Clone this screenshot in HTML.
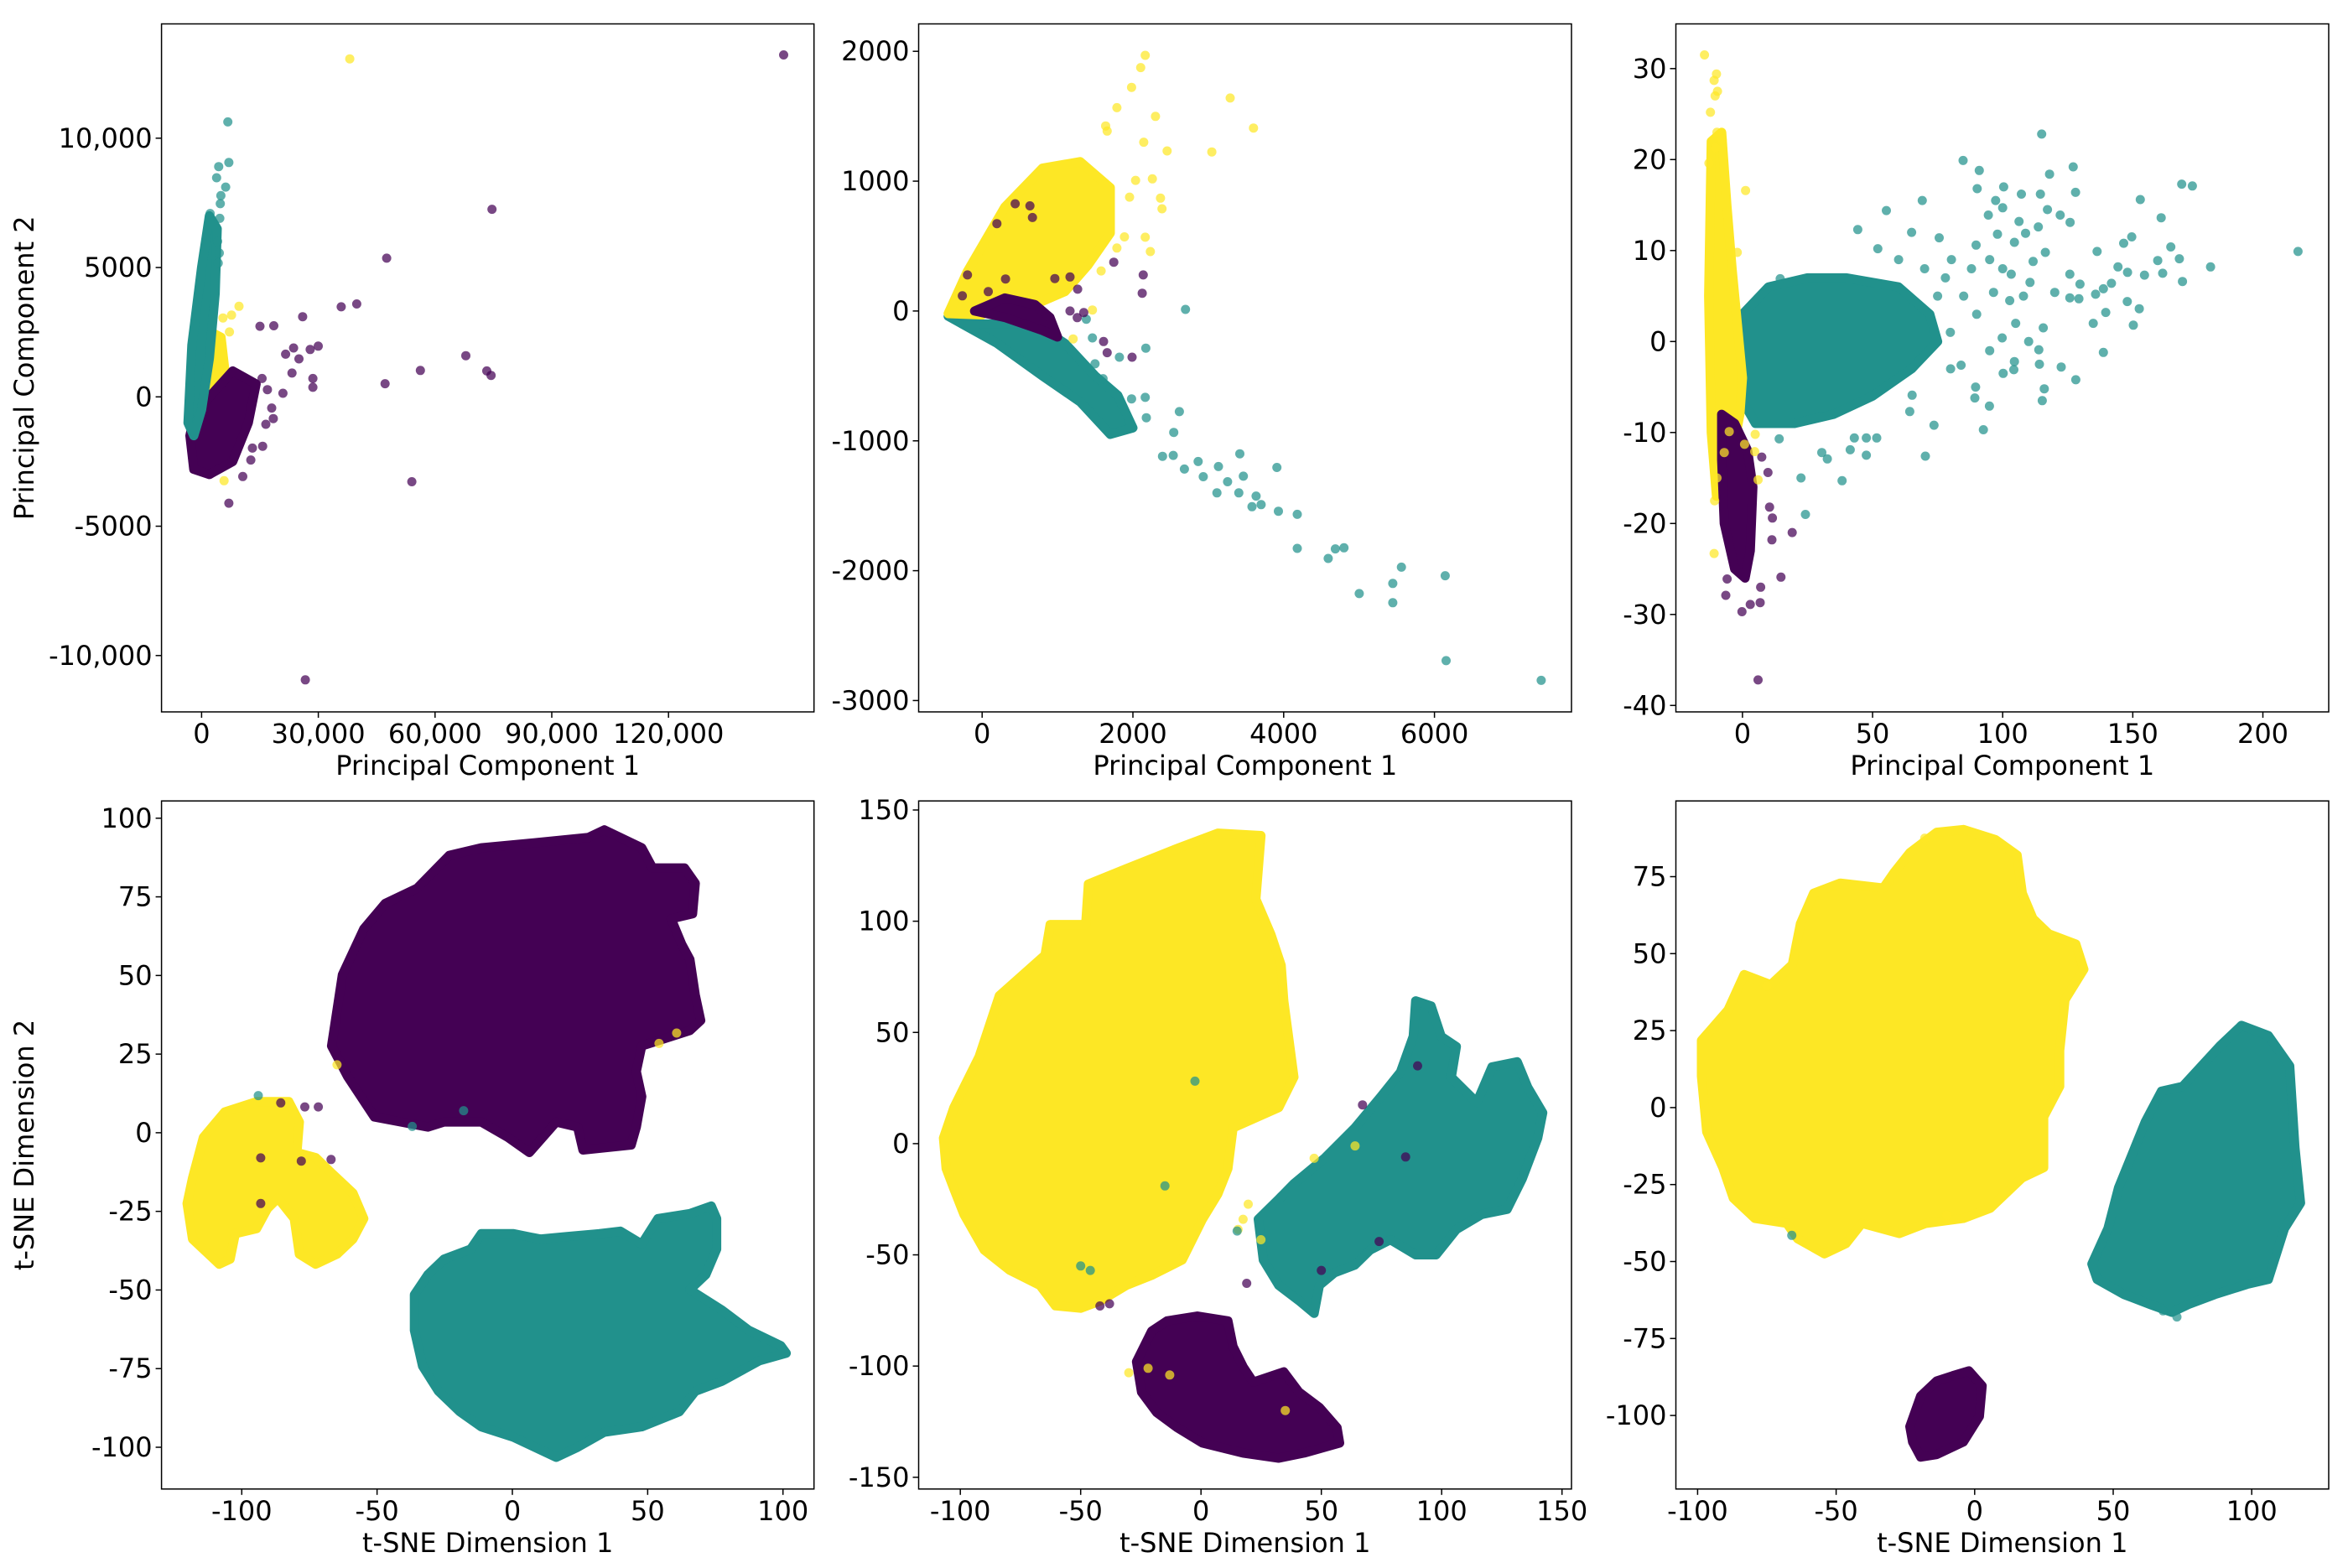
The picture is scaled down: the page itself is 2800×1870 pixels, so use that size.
<!DOCTYPE html>
<html><head><meta charset="utf-8"><style>
html,body{margin:0;padding:0;background:#fff;}
svg{display:block;font-family:"DejaVu Sans","Liberation Sans",sans-serif;}
</style></head><body>
<svg id="fig" width="2800" height="1870" viewBox="0 0 2800 1870" xmlns="http://www.w3.org/2000/svg"></svg>
<script>
// ---------------- DATA ----------------
// Panel 1: PCA (raw)
const p1XTicks=[0,30000,60000,90000,120000];
const p1XTickLabels=["0","30,000","60,000","90,000","120,000"];
const p1YTicks=[-10000,-5000,0,5000,10000];
const p1YTickLabels=["-10,000","-5000","0","5000","10,000"];
const p1YellowRegion=[[0,-1500],[1000,500],[2500,2500],[5000,2300],[6000,1000],[5000,-500],[3000,-1200]];
const p1PurpleRegion=[[-3000,-1500],[-2000,-2800],[2000,-3000],[8000,-2500],[12000,-1000],[14000,500],[8000,1000],[2000,0],[-2000,-800]];
const p1TealRegion=[[-3500,-1000],[-2500,2000],[0,5000],[2000,7000],[4000,6500],[3500,4000],[2000,1500],[0,-500],[-2000,-1500]];
const p1TealPts=[[6740,10630],[7010,9060],[4400,8900],[3850,8470],[6190,8110],[4950,7780],[4810,7470],[4670,6900],[2200,7090],[4120,6010],[4540,5560],[4260,5170]];
const p1YellowPts=[[38090,13065],[9620,3500],[7700,3160],[5500,3050],[7150,2510],[5220,1980],[5770,-3240]];
const p1PurplePts=[[149600,13220],[74640,7250],[47560,5360],[39870,3590],[35880,3480],[25980,3100],[14990,2730],[18560,2750],[29970,1960],[27910,1830],[23650,1890],[25020,1470],[21590,1650],[67920,1590],[73290,1000],[74390,830],[56230,1020],[47150,510],[28600,710],[28600,370],[23240,920],[20900,140],[18430,-840],[18010,-430],[16500,-1060],[54040,-3280],[26670,-10940],[7010,-4110],[10590,-3080],[12650,-2440],[15680,-1910],[13060,-1980],[16910,280],[15540,710]];

// Panel 2: PCA (scaled)
const p2XTicks=[0,2000,4000,6000];
const p2XTickLabels=["0","2000","4000","6000"];
const p2YTicks=[-3000,-2000,-1000,0,1000,2000];
const p2YTickLabels=["-3000","-2000","-1000","0","1000","2000"];
const p2TealRegion=[[-450,-40],[0,-100],[700,-100],[1100,-250],[1500,-500],[1800,-650],[2000,-900],[1700,-950],[1300,-700],[800,-500],[200,-250]];
const p2PurpleRegion=[[-100,0],[300,-50],[800,-150],[1000,-200],[900,-50],[700,50],[300,100]];
const p2YellowRegion=[[-450,-20],[-200,300],[300,800],[800,1100],[1300,1150],[1700,950],[1700,600],[1400,350],[1100,150],[700,50],[300,120],[0,-30]];
const p2TealPts=[[7416,-2845],[6155,-2693],[6142,-2039],[5562,-1973],[5447,-2098],[5447,-2247],[5002,-2176],[4591,-1906],[4685,-1832],[4800,-1824],[4180,-1828],[4180,-1566],[3930,-1542],[3910,-1205],[3634,-1425],[3701,-1491],[3580,-1507],[3465,-1272],[3418,-1100],[3405,-1401],[3115,-1401],[3256,-1315],[3135,-1198],[2865,-1159],[2933,-1276],[2683,-1217],[2535,-1112],[2616,-775],[2542,-935],[2164,-665],[2171,-286],[2697,12],[2393,-1119],[1982,-677],[1604,-521],[1497,-407],[1382,-63],[1463,-207],[1821,-356],[2178,-822]];
const p2YellowPts=[[2164,1969],[2103,1875],[1982,1722],[1787,1566],[2299,1499],[3290,1640],[3600,1409],[3047,1225],[2454,1233],[1638,1425],[1659,1386],[2144,1300],[2258,1018],[2366,869],[2386,787],[2164,568],[2231,458],[1888,571],[1787,485],[1578,309],[1463,8],[1207,-215],[1955,877],[2036,1006]];
const p2PurplePts=[[2137,278],[2123,137],[1746,376],[1611,-235],[1659,-321],[1989,-356],[1166,262],[1267,168],[1166,0],[1261,-51],[1348,-12],[964,250],[438,826],[634,810],[196,673],[310,247],[81,149],[-263,117],[-195,278],[667,720]];

// Panel 3: PCA (standardized)
const p3XTicks=[0,50,100,150,200];
const p3XTickLabels=["0","50","100","150","200"];
const p3YTicks=[-40,-30,-20,-10,0,10,20,30];
const p3YTickLabels=["-40","-30","-20","-10","0","10","20","30"];
const p3YellowRegion=[[-12,22],[-8,23],[-6,15],[-4,8],[-2,2],[0,-4],[-1,-8],[-5,-14],[-10,-17],[-12,-10],[-13,5]];
const p3PurpleRegion=[[-8,-8],[-3,-9],[2,-12],[4,-16],[3,-23],[1,-26],[-3,-25],[-7,-20],[-8,-13]];
const p3TealRegion=[[-2,-2],[0,3],[10,6],[25,7],[40,7],[60,6],[72,3],[75,0],[65,-3],[50,-6],[35,-8],[20,-9],[5,-9],[-1,-6]];
const p3TealPts=[[213.5,9.9],[179.9,8.2],[172.9,17.1],[168.8,17.3],[169.1,6.6],[167.9,9.1],[164.6,10.4],[160.9,13.6],[161.5,7.5],[159.6,8.9],[152.9,15.6],[152.5,3.6],[154.5,7.3],[149.6,11.5],[148,7.6],[146.5,10.8],[150.2,1.8],[147.9,4.4],[144.3,8.2],[141.8,6.4],[138.7,5.8],[139.6,3.2],[138.7,-1.2],[136.3,9.9],[135.7,5.2],[134.8,2],[129.7,6.3],[129.3,4.7],[128,16.4],[127.1,19.2],[125.9,13.1],[125.8,7.4],[125.8,4.8],[128.1,-4.2],[122.5,-2.8],[122.1,13.9],[120,5.4],[118,18.4],[117.2,14.5],[116.4,9.8],[115,22.8],[114.5,16.2],[113.7,12.6],[115.6,1.5],[116,-5.2],[115.2,-6.5],[114.1,-2.5],[113.9,-0.9],[111.7,8.8],[110.5,6.5],[108.8,11.9],[107.2,16.2],[106.3,13.2],[104.5,10.9],[103.3,7.4],[102.7,4.5],[104.3,-3.1],[104.5,-2.2],[100.2,-3.5],[99.8,0.4],[100.4,17],[100,14.7],[98,11.8],[97.3,15.5],[96.5,5.4],[94.5,13.9],[94.9,-7.1],[92.6,-9.7],[91,18.8],[90.2,16.8],[89.8,10.6],[89.6,-5],[89.3,-6.2],[84.8,19.9],[84,-2.6],[80.3,9],[79.9,1],[75.6,11.4],[73.6,-9.2],[70.3,-12.6],[69.1,15.5],[65.2,-5.9],[64.3,-7.7],[55.3,14.4],[52,10.2],[51.6,-10.6],[47.6,-12.5],[47.6,-10.6],[44.3,12.3],[43,-10.6],[41.4,-11.9],[38.3,-15.3],[32.6,-12.9],[30.5,-12.2],[24.2,-19],[22.5,-15],[14.5,6.9],[14.1,-10.7],[85,5],[90,3],[95,-1],[80,-3],[75,5],[70,8],[60,9],[65,12],[78,7],[88,8],[100,8],[108,5],[110,0],[105,2],[95,9]];
const p3YellowPts=[[-14.6,31.5],[-10.9,28.7],[-10,29.4],[-9.6,27.5],[-10.5,27],[-9.8,23],[-7.8,22.2],[-10.4,21.3],[1.2,16.6],[-2,9.8],[-10.9,-23.3],[-10.7,-17.5],[-9.8,-15],[-7,-12.2],[4.9,-10.2],[4.7,-12.1],[6,-15.2],[0.8,-11.3],[-5.1,-9.9],[-12.9,19.6],[-12.3,25.2]];
const p3PurplePts=[[6,-37.2],[14.8,-25.9],[19.1,-21],[11.5,-19.4],[10.4,-18.2],[11.3,-21.8],[7,-27],[6.8,-28.7],[3,-28.9],[-0.2,-29.7],[-6.4,-27.9],[7.4,-12.7],[9.8,-14.4],[-5.9,-26.1]];

// Panel 4: t-SNE (raw)
const p4XTicks=[-100,-50,0,50,100];
const p4XTickLabels=["-100","-50","0","50","100"];
const p4YTicks=[-100,-75,-50,-25,0,25,50,75,100];
const p4YTickLabels=["-100","-75","-50","-25","0","25","50","75","100"];
const p4PurpleRegion=[[-66.8,27.6],[-62.8,50.2],[-54.9,64.8],[-47,72.9],[-35.2,77.7],[-23.3,88.2],[-11.5,90.6],[8.3,92.2],[28.1,93.9],[34,96.3],[47.8,90.6],[51.8,84.2],[63.6,84.2],[67.6,79.3],[66.6,69.6],[58.7,68],[62.6,59.9],[65.6,55.1],[67.6,43.8],[69.6,35.7],[65.6,32.5],[47.8,27.6],[45.8,19.5],[47.8,11.5],[45.8,1.8],[43.9,-3.9],[26.1,-5.5],[24.1,1.8],[16.2,3.4],[6.3,-6.3],[-1.6,-1.5],[-11.5,3.4],[-25.3,3.4],[-31.2,1.8],[-51,5],[-60.9,17.9]];
const p4YellowRegion=[[-118.2,-14.4],[-114.2,-1.5],[-106.3,6.6],[-94.5,9.9],[-82.6,9.9],[-78.7,3.4],[-79.6,-6.3],[-72.7,-7.9],[-66.8,-12.8],[-58.9,-19.2],[-54.9,-27.3],[-58.9,-33.8],[-64.8,-38.6],[-72.7,-41.8],[-78.7,-38.6],[-80.6,-27.3],[-86.6,-20.8],[-90.5,-24.1],[-94.5,-30.5],[-102.4,-32.1],[-104.3,-40.2],[-108.3,-41.8],[-118.2,-33.8],[-120.2,-22.5]];
const p4TealRegion=[[-36.2,-51.5],[-31.2,-45.1],[-25.3,-40.2],[-15.4,-37],[-11.5,-32.1],[0.4,-32.1],[10.3,-33.8],[20.2,-33],[32,-32.1],[39.9,-31.3],[47.8,-35.4],[53.8,-27.3],[65.6,-25.7],[73.5,-23.3],[75.5,-27.3],[75.5,-37],[71.5,-45.1],[65.6,-49.9],[77.5,-56.4],[87.4,-62.8],[99.2,-67.7],[101.2,-70.1],[91.3,-72.5],[77.5,-79],[67.6,-82.2],[61.7,-88.7],[47.8,-93.5],[34,-95.2],[24.1,-100],[16.2,-103.2],[8.3,-100],[0.4,-96.8],[-11.5,-93.5],[-19.4,-88.7],[-27.3,-82.2],[-33.2,-74.2],[-36.2,-62.8]];
const p4PurplePts=[[-85.6,9.5],[-76.7,8.2],[-71.7,8.2],[-93,-8],[-78,-9],[-67,-8.5],[-93,-22.5]];
const p4YellowPts=[[-64.8,21.6],[54.2,28.4],[60.7,31.7]];
const p4TealPts=[[-93.9,11.8],[-37,2],[-18,7]];

// Panel 5: t-SNE (scaled)
const p5XTicks=[-100,-50,0,50,100,150];
const p5XTickLabels=["-100","-50","0","50","100","150"];
const p5YTicks=[-150,-100,-50,0,50,100,150];
const p5YTickLabels=["-150","-100","-50","0","50","100","150"];
const p5YellowRegion=[[-107,2.5],[-102.7,16.2],[-92.2,39.1],[-83.8,66.5],[-64.8,84.8],[-62.7,98.5],[-47.9,98.5],[-46.8,116.7],[-31,123.6],[-9.9,132.7],[7,139.6],[24.9,138.5],[22.8,109.9],[29.1,93.9],[33.3,80.2],[34.4,64.2],[38.6,29.9],[32.3,16.2],[13.3,7.1],[11.2,-11.2],[7,-22.6],[0.6,-34],[-7.8,-52.3],[-20.5,-59.2],[-31,-63.7],[-41.6,-70.6],[-50,-74],[-60.5,-72.9],[-66.9,-63.7],[-79.5,-56.9],[-90.1,-47.8],[-98.5,-31.8],[-102.7,-20.3],[-105.9,-11.2]];
const p5TealRegion=[[23.8,-34],[32.3,-24.9],[38.6,-18],[51.3,-6.6],[63.9,7.1],[74.5,20.8],[82.9,32.2],[88.2,48.2],[89.2,64.2],[95.6,61.9],[99.8,48.2],[106.1,43.6],[104,29.9],[114.6,18.5],[120.9,34.5],[131.4,36.8],[135.7,25.4],[142,13.9],[139.9,2.5],[133.5,-15.8],[127.2,-29.5],[116.7,-31.8],[106.1,-38.6],[97.7,-50],[89.2,-50],[78.7,-43.2],[70.3,-47.8],[63.9,-54.6],[55.5,-58],[49.2,-63.7],[47,-76.3],[40.7,-70.6],[32.3,-63.7],[25.9,-52.3]];
const p5PurpleRegion=[[-26.8,-98],[-20.5,-84.3],[-14.1,-79.7],[-1.5,-77.5],[11.2,-79.7],[13.3,-91.2],[17.5,-100.3],[21.7,-107.2],[34.4,-102.6],[40.7,-111.7],[49.2,-118.6],[56.5,-127.7],[57.6,-134.6],[42.8,-139.1],[32.3,-141.4],[17.5,-139.1],[0.6,-134.6],[-9.9,-127.7],[-18.4,-120.9],[-24.7,-111.7]];
const p5YellowPts=[[17.5,-34],[15.4,-38.6],[19.6,-27.2],[24.9,-43.2],[47,-6.6],[-30,-103],[-22,-101],[-13,-104],[35,-120],[64,-1]];
const p5PurplePts=[[19,-62.8],[67.1,17.4],[-42,-73],[-38,-72],[85,-6],[74,-44],[90,35],[50,-57]];
const p5TealPts=[[-2.5,28.1],[15,-39.3],[-50,-55],[-46,-57],[-15,-19]];

// Panel 6: t-SNE (standardized)
const p6XTicks=[-100,-50,0,50,100];
const p6XTickLabels=["-100","-50","0","50","100"];
const p6YTicks=[-100,-75,-50,-25,0,25,50,75];
const p6YTickLabels=["-100","-75","-50","-25","0","25","50","75"];
const p6YellowRegion=[[-98.6,21.8],[-89,31.7],[-83.2,43.2],[-73.6,39.9],[-65.8,46.5],[-62.9,59.7],[-58.1,69.6],[-48.5,72.9],[-33,71.3],[-29.2,76.2],[-23.4,82.8],[-13.7,89.4],[-4.1,90.3],[7.5,87],[15.3,82],[17.2,69.6],[21,61.4],[26.8,56.4],[36.5,53.1],[39.4,44.9],[32.6,35],[30.7,18.5],[30.7,6.9],[24.9,-3],[24.9,-19.5],[17.2,-22.8],[5.6,-32.7],[-4.1,-36],[-17.6,-37.6],[-27.2,-40.9],[-40.7,-37.6],[-46.5,-44.2],[-54.2,-47.5],[-63.9,-42.6],[-67.8,-37.6],[-79.3,-36],[-87.1,-29.4],[-90.9,-19.5],[-96.7,-7.9],[-98.6,10.2]];
const p6TealRegion=[[42.3,-50.8],[48.1,-39.3],[51.9,-26.1],[61.6,-4.6],[67.4,5.3],[75.1,6.9],[88.6,20.1],[96.3,26.7],[106,23.4],[113.7,13.5],[115.6,-12.9],[117.6,-31],[111.8,-39.3],[106,-55.8],[98.3,-57.4],[86.7,-60.7],[77,-64],[71.2,-66.5],[63.5,-64],[53.9,-60.7],[44.2,-55.8]];
const p6PurpleRegion=[[-23.4,-103.6],[-19.5,-93.7],[-13.7,-88.8],[-7.9,-87.1],[-2.1,-85.5],[2.7,-90.4],[1.7,-100.3],[-4.1,-108.6],[-13.7,-112.7],[-19.5,-113.5],[-22.4,-108.6]];
const p6YellowPts=[[-18,87.5],[-75,39.5],[-10,-35]];
const p6TealPts=[[-66,-41.5],[68,-66],[73,-68]];

// ---------------- RENDER ----------------
const NS="http://www.w3.org/2000/svg";
const svg=document.getElementById('fig');
const C={p:"#440154",t:"#21918c",y:"#fde725"};
function mk(tag,attrs,parent){const e=document.createElementNS(NS,tag);for(const k in attrs)e.setAttribute(k,attrs[k]);(parent||svg).appendChild(e);return e;}

function panel(cfg){
  const g=mk('g',{});
  
  
  const sx=v=>cfg.x0p+(v-cfg.x0v)*(cfg.x1p-cfg.x0p)/(cfg.x1v-cfg.x0v);
  const sy=v=>cfg.y0p+(v-cfg.y0v)*(cfg.y1p-cfg.y0p)/(cfg.y1v-cfg.y0v);
  const [L,T,R,B]=cfg.box;
  const clipId='clip'+cfg.id;
  const cp=mk('clipPath',{id:clipId},g);mk('rect',{x:L,y:T,width:R-L,height:B-T},cp);
  const plot=mk('g',{'clip-path':'url(#'+clipId+')'},g);
  
  
  cfg.layers.forEach(l=>{
    if(l.region){
      const pts=l.region.map(p=>sx(p[0]).toFixed(1)+','+sy(p[1]).toFixed(1)).join(' ');
      const pg=mk('polygon',{points:pts,fill:l.color,stroke:l.color,'stroke-width':11,'stroke-linejoin':'round'},plot);
      
      
    } else {
      l.pts.forEach(p=>{
        const c=mk('circle',{cx:sx(p[0]).toFixed(1),cy:sy(p[1]).toFixed(1),r:5.5,fill:l.color,'fill-opacity':0.72},plot);
        
        
      });
    }
  });
  const fr=mk('rect',{x:L,y:T,width:R-L,height:B-T,fill:'none',stroke:'#000','stroke-width':1.5},g);
  
  
  cfg.xTicks.forEach((v,i)=>{
    const x=sx(v);
    const tk=mk('line',{x1:x,y1:B,x2:x,y2:B+7,stroke:'#000','stroke-width':1.5},g);
    
    
    const t=mk('text',{x:x,y:B+37,'font-size':32,'text-anchor':'middle',fill:'#000'},g);
    t.textContent=cfg.xTickLabels[i];
    
    
  });
  cfg.yTicks.forEach((v,i)=>{
    const y=sy(v);
    const tk=mk('line',{x1:L-7,y1:y,x2:L,y2:y,stroke:'#000','stroke-width':1.5},g);
    
    
    const t=mk('text',{x:L-11,y:y+11,'font-size':32,'text-anchor':'end',fill:'#000'},g);
    t.textContent=cfg.yTickLabels[i];
    
    
  });
  const xl=mk('text',{x:(L+R)/2,y:B+75,'font-size':32,'text-anchor':'middle',fill:'#000'},g);
  xl.textContent=cfg.xLabel;
  
  
  if(cfg.yLabel){
    const cy=(T+B)/2;
    const yl=mk('text',{x:40,y:cy,'font-size':32,'text-anchor':'middle',fill:'#000',transform:'rotate(-90 40 '+cy+')'},g);
    yl.textContent=cfg.yLabel;
    
    
  }
}

const rowA=[28.5,849], rowB=[955.2,1775.8];
const colA=[192.6,970.7], colB=[1095.5,1874], colC=[1998.5,2777];

panel({id:1,name:'pca-raw-panel',box:[colA[0],rowA[0],colA[1],rowA[1]],x0v:0,x0p:240.4,x1v:120000,x1p:797.2,y0v:0,y0p:473.3,y1v:10000,y1p:164.8,
  xTicks:p1XTicks,xTickLabels:p1XTickLabels,yTicks:p1YTicks,yTickLabels:p1YTickLabels,xLabel:'Principal Component 1',yLabel:'Principal Component 2',
  layers:[{region:p1YellowRegion,color:C.y,label:'cluster-yellow'},{region:p1PurpleRegion,color:C.p,label:'cluster-purple'},{region:p1TealRegion,color:C.t,label:'cluster-teal'},
    {pts:p1TealPts,color:C.t,label:'point-teal'},{pts:p1YellowPts,color:C.y,label:'point-yellow'},{pts:p1PurplePts,color:C.p,label:'point-purple'}]});

panel({id:2,name:'pca-scaled-panel',box:[colB[0],rowA[0],colB[1],rowA[1]],x0v:0,x0p:1171.2,x1v:6000,x1p:1710.6,y0v:0,y0p:370.9,y1v:2000,y1p:61.2,
  xTicks:p2XTicks,xTickLabels:p2XTickLabels,yTicks:p2YTicks,yTickLabels:p2YTickLabels,xLabel:'Principal Component 1',
  layers:[{region:p2TealRegion,color:C.t,label:'cluster-teal'},{region:p2YellowRegion,color:C.y,label:'cluster-yellow'},{region:p2PurpleRegion,color:C.p,label:'cluster-purple'},
    {pts:p2TealPts,color:C.t,label:'point-teal'},{pts:p2YellowPts,color:C.y,label:'point-yellow'},{pts:p2PurplePts,color:C.p,label:'point-purple'}]});

panel({id:3,name:'pca-standardized-panel',box:[colC[0],rowA[0],colC[1],rowA[1]],x0v:0,x0p:2077.9,x1v:200,x1p:2698.5,y0v:0,y0p:407.3,y1v:30,y1p:81.8,
  xTicks:p3XTicks,xTickLabels:p3XTickLabels,yTicks:p3YTicks,yTickLabels:p3YTickLabels,xLabel:'Principal Component 1',
  layers:[{region:p3TealRegion,color:C.t,label:'cluster-teal'},{pts:p3TealPts,color:C.t,label:'point-teal'},{region:p3YellowRegion,color:C.y,label:'cluster-yellow'},{region:p3PurpleRegion,color:C.p,label:'cluster-purple'},
    {pts:p3YellowPts,color:C.y,label:'point-yellow'},{pts:p3PurplePts,color:C.p,label:'point-purple'}]});

panel({id:4,name:'tsne-raw-panel',box:[colA[0],rowB[0],colA[1],rowB[1]],x0v:0,x0p:611,x1v:100,x1p:933.7,y0v:0,y0p:1350.9,y1v:100,y1p:975.8,
  xTicks:p4XTicks,xTickLabels:p4XTickLabels,yTicks:p4YTicks,yTickLabels:p4YTickLabels,xLabel:'t-SNE Dimension 1',yLabel:'t-SNE Dimension 2',
  layers:[{region:p4PurpleRegion,color:C.p,label:'cluster-purple'},{region:p4YellowRegion,color:C.y,label:'cluster-yellow'},{region:p4TealRegion,color:C.t,label:'cluster-teal'},
    {pts:p4PurplePts,color:C.p,label:'point-purple'},{pts:p4YellowPts,color:C.y,label:'point-yellow'},{pts:p4TealPts,color:C.t,label:'point-teal'}]});

panel({id:5,name:'tsne-scaled-panel',box:[colB[0],rowB[0],colB[1],rowB[1]],x0v:0,x0p:1432.2,x1v:150,x1p:1862.7,y0v:0,y0p:1363.9,y1v:150,y1p:966,
  xTicks:p5XTicks,xTickLabels:p5XTickLabels,yTicks:p5YTicks,yTickLabels:p5YTickLabels,xLabel:'t-SNE Dimension 1',
  layers:[{region:p5YellowRegion,color:C.y,label:'cluster-yellow'},{region:p5TealRegion,color:C.t,label:'cluster-teal'},{region:p5PurpleRegion,color:C.p,label:'cluster-purple'},
    {pts:p5YellowPts,color:C.y,label:'point-yellow'},{pts:p5PurplePts,color:C.p,label:'point-purple'},{pts:p5TealPts,color:C.t,label:'point-teal'}]});

panel({id:6,name:'tsne-standardized-panel',box:[colC[0],rowB[0],colC[1],rowB[1]],x0v:0,x0p:2354.8,x1v:100,x1p:2685.2,y0v:0,y0p:1320.9,y1v:75,y1p:1045.5,
  xTicks:p6XTicks,xTickLabels:p6XTickLabels,yTicks:p6YTicks,yTickLabels:p6YTickLabels,xLabel:'t-SNE Dimension 1',
  layers:[{region:p6YellowRegion,color:C.y,label:'cluster-yellow'},{region:p6TealRegion,color:C.t,label:'cluster-teal'},{region:p6PurpleRegion,color:C.p,label:'cluster-purple'},
    {pts:p6YellowPts,color:C.y,label:'point-yellow'},{pts:p6TealPts,color:C.t,label:'point-teal'}]});
</script>
</body></html>
